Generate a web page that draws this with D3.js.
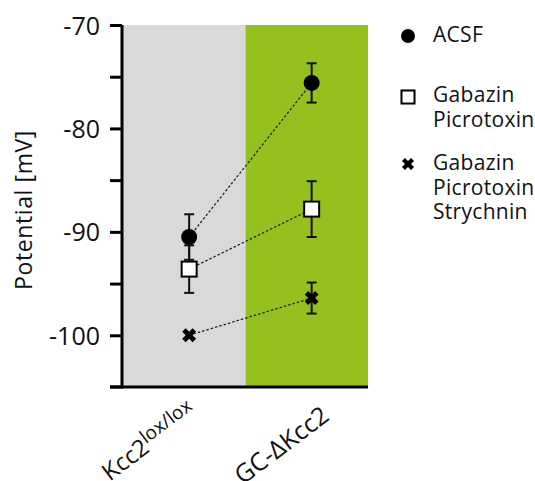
<!DOCTYPE html>
<html><head><meta charset="utf-8">
<script src="https://cdn.jsdelivr.net/npm/d3@7"></script>
<style>body{margin:0;background:#fff}text{font-family:"Open Sans",sans-serif;fill:#111}</style>
</head><body><svg id="c" width="535" height="481"></svg>
<script>
const categories = ["Kcc2lox/lox", "GC-ΔKcc2"];
const seriesNames = ["ACSF", "Gabazin Picrotoxin", "Gabazin Picrotoxin Strychnin"];
const acsfMean = [-90.5, -75.6];
const acsfErr = [2.2, 1.9];
const gabMean = [-93.6, -87.8];
const gabErr = [2.3, 2.7];
const strMean = [-100.0, -96.4];
const strErr = [0.4, 1.5];
const yTicks = [-70, -80, -90, -100];
const yMinorTicks = [-75, -85, -95];
const panelColors = ["#d9d9d9", "#95c11f"];

const svg = d3.select("#c");
const y = d3.scaleLinear().domain([-105, -70]).range([387, 25]);
const x = d3.scaleBand().domain(categories).range([123, 368]);
const cx = c => x(c) + x.bandwidth() * 0.54;

// panels
svg.selectAll("rect.panel").data(categories).join("rect")
  .attr("x", d => x(d)).attr("y", y(-70))
  .attr("width", x.bandwidth()).attr("height", y(-105) - y(-70))
  .attr("fill", (d, i) => panelColors[i]);

const series = [
  {name: seriesNames[0], mean: acsfMean, err: acsfErr, sym: "circle"},
  {name: seriesNames[1], mean: gabMean, err: gabErr, sym: "square"},
  {name: seriesNames[2], mean: strMean, err: strErr, sym: "x"}
];

// dashed connectors
series.forEach(s => {
  svg.append("path")
    .attr("d", d3.line().x((d, i) => cx(categories[i])).y(d => y(d))(s.mean))
    .attr("fill", "none").attr("stroke", "#222").attr("stroke-width", 1.3)
    .attr("stroke-dasharray", "2.5,2");
});

// error bars
series.forEach(s => {
  s.mean.forEach((m, i) => {
    const X = cx(categories[i]);
    if (s.err[i] < 0.8) return;
    const g = svg.append("g").attr("stroke", "#111").attr("stroke-width", 2);
    g.append("line").attr("x1", X).attr("x2", X).attr("y1", y(m + s.err[i])).attr("y2", y(m - s.err[i]));
    [m + s.err[i], m - s.err[i]].forEach(v =>
      g.append("line").attr("x1", X - 5).attr("x2", X + 5).attr("y1", y(v)).attr("y2", y(v)));
  });
});

function drawMarker(g, sym, X, Y, scale) {
  scale = scale || 1;
  if (sym === "circle") g.append("circle").attr("cx", X).attr("cy", Y).attr("r", 8 * scale).attr("fill", "#000");
  else if (sym === "square") g.append("rect").attr("x", X - 7.5 * scale).attr("y", Y - 7.5 * scale)
      .attr("width", 15 * scale).attr("height", 15 * scale).attr("fill", "#fff").attr("stroke", "#000").attr("stroke-width", 2);
  else g.append("path").attr("d", d3.symbol(d3.symbolCross, 120 * scale * scale)())
      .attr("transform", `translate(${X},${Y}) rotate(45)`).attr("fill", "#000");
}
series.forEach(s => s.mean.forEach((m, i) => drawMarker(svg, s.sym, cx(categories[i]), y(m))));

// y axis
const yAxis = svg.append("g").attr("transform", "translate(122,0)")
  .call(d3.axisLeft(y).tickValues(yTicks.concat(yMinorTicks)).tickSize(12).tickPadding(0)
    .tickFormat(d => yTicks.includes(d) ? d : ""));
yAxis.select(".domain").attr("stroke-width", 3).attr("d", `M-12,${y(-105)}H0V${y(-70)}`);
yAxis.selectAll(".tick line").attr("stroke-width", 3);
yAxis.selectAll(".tick text").attr("font-size", 25).attr("x", -22).attr("dy", "0.36em")
  .style("font-family", "'Open Sans',sans-serif").attr("fill", "#111");
// bottom axis line
svg.append("line").attr("x1", 110).attr("x2", 368).attr("y1", y(-105)).attr("y2", y(-105))
  .attr("stroke", "#000").attr("stroke-width", 3);

// y label
svg.append("text").attr("transform", `translate(32,${y(-87.5) + 4}) rotate(-90)`)
  .attr("text-anchor", "middle").attr("font-size", 23).attr("letter-spacing", 0.6).text("Potential [mV]");

// x labels
const xl1 = svg.append("text").attr("text-anchor", "end").attr("font-size", 24)
  .attr("transform", `translate(${cx(categories[0]) + 9},415) rotate(-37)`);
xl1.append("tspan").text("Kcc2");
xl1.append("tspan").attr("font-size", 19).attr("dy", -8).text("lox/lox");
svg.append("text").attr("text-anchor", "end").attr("font-size", 25)
  .attr("transform", `translate(${cx(categories[1]) + 19},419) rotate(-37)`).text(categories[1]);

// legend
const legendRows = [
  {sym: "circle", my: 36, lines: ["ACSF"], base: 42},
  {sym: "square", my: 97, lines: ["Gabazin", "Picrotoxin"], base: 102},
  {sym: "x", my: 164, lines: ["Gabazin", "Picrotoxin", "Strychnin"], base: 170}
];
legendRows.forEach(r => {
  drawMarker(svg, r.sym, 408, r.my, 0.87);
  r.lines.forEach((t, k) => svg.append("text").attr("x", 433).attr("y", r.base + k * 24.5)
    .attr("font-size", 21).attr("letter-spacing", 0.3).text(t));
});
</script></body></html>
